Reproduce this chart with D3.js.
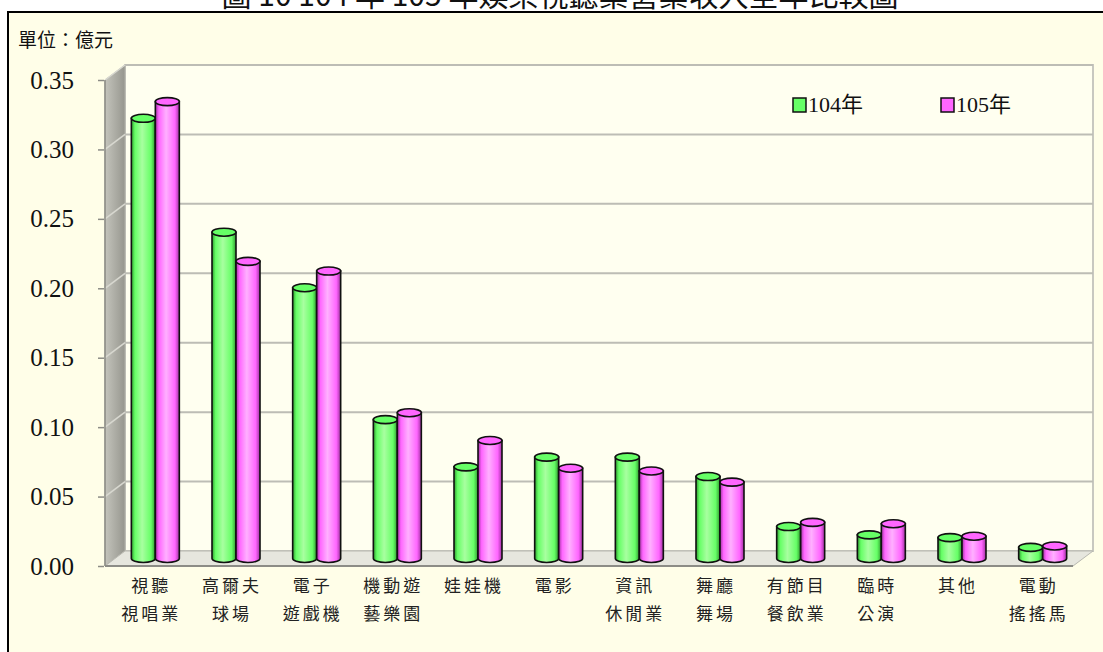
<!DOCTYPE html>
<html>
<head>
<meta charset="utf-8">
<script src="https://cdn.jsdelivr.net/npm/d3@7"></script>
<style>
  body { margin: 0; background: #fff; }
  svg { display: block; }
</style>
</head>
<body>
<div id="plot"></div>
<script>
// data
var categories = ["視聽視唱業", "高爾夫球場", "電子遊戲機", "機動遊藝樂園", "娃娃機", "電影",
  "資訊休閒業", "舞廳舞場", "有節目餐飲業", "臨時公演", "其他", "電動搖搖馬"];
var catLines = [["視聽", "視唱業"], ["高爾夫", "球場"], ["電子", "遊戲機"], ["機動遊", "藝樂園"],
  ["娃娃機"], ["電影"], ["資訊", "休閒業"], ["舞廳", "舞場"], ["有節目", "餐飲業"],
  ["臨時", "公演"], ["其他"], ["電動", "搖搖馬"]];
var seriesNames = ["104年", "105年"];
var values104 = [0.317, 0.235, 0.195, 0.100, 0.066, 0.073, 0.073, 0.059, 0.023, 0.017, 0.015, 0.008];
var values105 = [0.329, 0.214, 0.207, 0.105, 0.085, 0.065, 0.063, 0.055, 0.026, 0.025, 0.016, 0.009];
var yTicks = [0, 0.05, 0.10, 0.15, 0.20, 0.25, 0.30, 0.35];

var colors = {
  "104年": { light: "#a8ffa0", mid: "#66ff66", dark: "#2f9a2f" },
  "105年": { light: "#ffb0ff", mid: "#ff66ff", dark: "#a030a0" }
};

var W = 1103, H = 652;
var depthX = 20, depthY = 15;
var plotLeft = 105, plotRight = 1073, plotTop = 80, plotBottom = 566;

var svg = d3.select("#plot").append("svg")
  .attr("width", W).attr("height", H);

var defs = svg.append("defs");

// frame
svg.append("rect").attr("x", 0).attr("y", 0).attr("width", W).attr("height", H).attr("fill", "#fff");
svg.append("rect").attr("x", 8).attr("y", 12).attr("width", W + 10).attr("height", H)
  .attr("fill", "#fffee8").attr("stroke", "#000").attr("stroke-width", 2);

// title, cut off at the top edge like the reference
svg.append("text")
  .attr("x", 560).attr("y", 6)
  .attr("text-anchor", "middle")
  .style("font-family", "'Noto Sans CJK TC', 'Liberation Serif'")
  .style("font-size", "30px")
  .attr("fill", "#111")
  .text("圖 10  104 年 105 年娛樂視聽業營業收入全年比較圖");

svg.append("text")
  .attr("x", 18).attr("y", 47)
  .style("font-family", "'Noto Sans CJK TC'")
  .style("font-size", "19px")
  .attr("fill", "#111")
  .text("單位：億元");

var yScale = d3.scaleLinear().domain([0, 0.35]).range([plotBottom, plotTop]);
var xScale = d3.scaleBand().domain(categories).range([plotLeft, plotRight]).paddingInner(0);
var xSeries = d3.scaleBand().domain(seriesNames).range([-24, 24]).padding(0);

// walls
var wallGrad = defs.append("linearGradient").attr("id", "wallGrad")
  .attr("x1", "0").attr("x2", "1").attr("y1", "0").attr("y2", "0");
wallGrad.append("stop").attr("offset", "0%").attr("stop-color", "#c4c4bc");
wallGrad.append("stop").attr("offset", "100%").attr("stop-color", "#96968e");

svg.append("rect")
  .attr("x", plotLeft + depthX).attr("y", plotTop - depthY)
  .attr("width", plotRight - plotLeft).attr("height", plotBottom - plotTop)
  .attr("fill", "#fffff0").attr("stroke", "#c8c8c0").attr("stroke-width", 2);

svg.append("polygon")
  .attr("points", [[plotLeft, plotTop], [plotLeft + depthX, plotTop - depthY],
    [plotLeft + depthX, plotBottom - depthY], [plotLeft, plotBottom]].join(" "))
  .attr("fill", "url(#wallGrad)").attr("stroke", "#b0b0a8");

svg.append("polygon")
  .attr("points", [[plotLeft, plotBottom], [plotLeft + depthX, plotBottom - depthY],
    [plotRight + depthX, plotBottom - depthY], [plotRight, plotBottom]].join(" "))
  .attr("fill", "#e6e6de").attr("stroke", "#b8b8b0");

// grid lines
var grid = svg.append("g");
grid.selectAll("line.back")
  .data(yTicks.slice(1)).enter()
  .append("line").attr("class", "back")
  .attr("x1", plotLeft + depthX).attr("x2", plotRight + depthX)
  .attr("y1", function(d) { return yScale(d) - depthY; })
  .attr("y2", function(d) { return yScale(d) - depthY; })
  .attr("stroke", "#bdbdb5").attr("stroke-width", 2);
grid.selectAll("line.side")
  .data(yTicks.slice(1)).enter()
  .append("line").attr("class", "side")
  .attr("x1", plotLeft).attr("x2", plotLeft + depthX)
  .attr("y1", function(d) { return yScale(d); })
  .attr("y2", function(d) { return yScale(d) - depthY; })
  .attr("stroke", "#d8d8d0").attr("stroke-width", 1.5);

svg.append("line")
  .attr("x1", plotLeft).attr("x2", plotRight).attr("y1", plotBottom).attr("y2", plotBottom)
  .attr("stroke", "#8c8c86").attr("stroke-width", 2);
svg.append("line")
  .attr("x1", plotLeft).attr("x2", plotLeft).attr("y1", plotTop).attr("y2", plotBottom)
  .attr("stroke", "#8c8c86").attr("stroke-width", 1.5);

// y axis
var yAxis = d3.axisLeft(yScale).tickValues(yTicks).tickFormat(d3.format(".2f")).tickSize(6).tickPadding(24);
var gy = svg.append("g").attr("transform", "translate(" + (plotLeft - 1) + ",0)").call(yAxis);
gy.select(".domain").remove();
gy.selectAll("line").attr("stroke", "#8c8c86").attr("stroke-width", 1.5);
gy.selectAll("text")
  .style("font-family", "'Liberation Serif'")
  .style("font-size", "25px")
  .attr("fill", "#111");

// cylinder gradients
seriesNames.forEach(function(s, i) {
  var c = colors[s];
  var g = defs.append("linearGradient").attr("id", "cyl" + i)
    .attr("x1", "0").attr("x2", "1").attr("y1", "0").attr("y2", "0");
  g.append("stop").attr("offset", "0%").attr("stop-color", c.dark);
  g.append("stop").attr("offset", "15%").attr("stop-color", c.mid);
  g.append("stop").attr("offset", "45%").attr("stop-color", c.light);
  g.append("stop").attr("offset", "82%").attr("stop-color", c.mid);
  g.append("stop").attr("offset", "100%").attr("stop-color", c.dark);
});

var rows = categories.map(function(c, i) {
  return { cat: c, vals: [values104[i], values105[i]] };
});

var bars = svg.append("g").selectAll("g")
  .data(rows).enter()
  .append("g")
  .attr("transform", function(d) {
    return "translate(" + (xScale(d.cat) + xScale.bandwidth() / 2 + depthX / 2) + "," + (-depthY / 2) + ")";
  });

var ry = 4;
seriesNames.forEach(function(s, i) {
  var bw = xSeries.bandwidth();
  var cyl = bars.append("g");
  // body
  cyl.append("path")
    .attr("d", function(d) {
      var x0 = xSeries(s), x1 = x0 + bw;
      var yt = yScale(d.vals[i]), yb = yScale(0);
      return "M" + x0 + "," + yt + " L" + x0 + "," + yb +
        " A" + (bw / 2) + "," + ry + " 0 0 0 " + x1 + "," + yb +
        " L" + x1 + "," + yt + " Z";
    })
    .attr("fill", "url(#cyl" + i + ")")
    .attr("stroke", "#111").attr("stroke-width", 1.6);
  // top
  cyl.append("ellipse")
    .attr("cx", xSeries(s) + bw / 2)
    .attr("cy", function(d) { return yScale(d.vals[i]); })
    .attr("rx", bw / 2).attr("ry", ry)
    .attr("fill", colors[s].mid)
    .attr("stroke", "#111").attr("stroke-width", 1.6);
});

// category labels
var labels = svg.append("g").selectAll("text")
  .data(rows).enter()
  .append("text")
  .attr("y", 592)
  .attr("text-anchor", "middle")
  .style("font-family", "'Noto Sans CJK TC'")
  .style("font-size", "17px")
  .style("letter-spacing", "3px")
  .attr("fill", "#222");
labels.each(function(d, i) {
  var t = d3.select(this);
  catLines[i].forEach(function(line, k) {
    t.append("tspan")
      .attr("x", xScale(d.cat) + xScale.bandwidth() / 2 + 6)
      .attr("dy", k === 0 ? 0 : 28)
      .text(line);
  });
});

// legend
var legend = svg.append("g").selectAll("g")
  .data(seriesNames).enter()
  .append("g")
  .attr("transform", function(d, i) { return "translate(" + (793 + i * 148) + ",98)"; });
legend.append("rect")
  .attr("width", 13).attr("height", 14)
  .attr("fill", function(d) { return colors[d].mid; })
  .attr("stroke", "#111").attr("stroke-width", 1.5);
legend.append("text")
  .attr("x", 15).attr("y", 14)
  .style("font-family", "'Liberation Serif', 'Noto Sans CJK TC'")
  .style("font-size", "22px")
  .attr("fill", "#111")
  .text(function(d) { return d; });
</script>
</body>
</html>
